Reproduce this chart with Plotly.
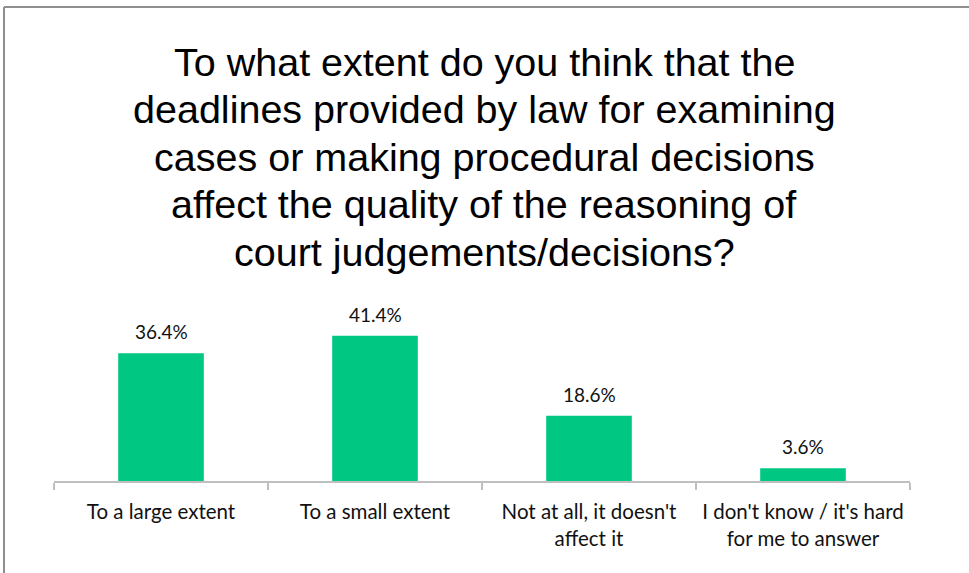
import plotly.graph_objects as go

# Survey answers and their shares (%)
categories = [
    "To a large extent",
    "To a small extent",
    "Not at all, it doesn't<br>affect it",
    "I don't know / it's hard<br>for me to answer",
]
shares = [36.4, 41.4, 18.6, 3.6]

title_lines = [
    "To what extent do you think that the",
    "deadlines provided by law for examining",
    "cases or making procedural decisions",
    "affect the quality of the reasoning of",
    "court judgements/decisions?",
]

W, H = 969, 573
M_L, M_R, M_T, M_B = 54, 59, 323, 92
PLOT_H = H - M_T - M_B
PLOT_W = W - M_L - M_R

BAR_COLOR = "#00C781"
FRAME_COLOR = "#8f8f8f"
LABEL_FONT = "Lato, 'Open Sans', sans-serif"
TITLE_FONT = "'Liberation Sans', Arial, sans-serif"


def py(px):
    """Pixel row from the top of the page -> paper y."""
    return (H - M_B - px) / PLOT_H


def px_x(px):
    """Pixel column from the left of the page -> paper x."""
    return (px - M_L) / PLOT_W


fig = go.Figure(
    go.Bar(
        x=categories,
        y=shares,
        marker=dict(color=BAR_COLOR, line=dict(width=0)),
        hoverinfo="skip",
    )
)

annotations = []
# Value labels above the bars
for cat, val in zip(categories, shares):
    annotations.append(
        dict(
            x=cat, y=val, xref="x", yref="y",
            text=f"{val:.1f}%",
            showarrow=False,
            yanchor="bottom",
            yshift=8,
            font=dict(family=LABEL_FONT, size=19, color="#111111"),
        )
    )

# Multi-line chart title, one annotation per line
line_mid = [61.5, 109, 156.5, 204, 251.5]
for txt, ym in zip(title_lines, line_mid):
    annotations.append(
        dict(
            x=px_x(484), y=py(ym), xref="paper", yref="paper",
            text=txt, showarrow=False,
            xanchor="center", yanchor="middle",
            font=dict(family=TITLE_FONT, size=39.5, color="#000000"),
        )
    )

fig.update_layout(
    width=W, height=H,
    margin=dict(l=M_L, r=M_R, t=M_T, b=M_B, pad=0),
    paper_bgcolor="white",
    plot_bgcolor="white",
    showlegend=False,
    bargap=0.6,
    annotations=annotations,
    shapes=[
        # outer frame: top edge
        dict(
            type="line", xref="paper", yref="paper",
            x0=px_x(4), x1=px_x(W + 20), y0=py(7), y1=py(7),
            line=dict(color=FRAME_COLOR, width=2), layer="below",
        ),
        # outer frame: left edge
        dict(
            type="line", xref="paper", yref="paper",
            x0=px_x(4), x1=px_x(4), y0=py(7), y1=py(H + 20),
            line=dict(color=FRAME_COLOR, width=2), layer="below",
        ),
    ],
    xaxis=dict(
        showline=True, linecolor="#BFBFBF", linewidth=1.5,
        ticks="outside", tickson="boundaries",
        ticklen=7, tickcolor="#BFBFBF", tickwidth=1.5,
        ticklabelstandoff=12,
        tickfont=dict(family=LABEL_FONT, size=20.5, color="#111111"),
        showgrid=False, zeroline=False, fixedrange=True,
    ),
    yaxis=dict(
        range=[0, 45], visible=False, showgrid=False,
        zeroline=False, fixedrange=True,
    ),
)

fig.write_html("out.html")
